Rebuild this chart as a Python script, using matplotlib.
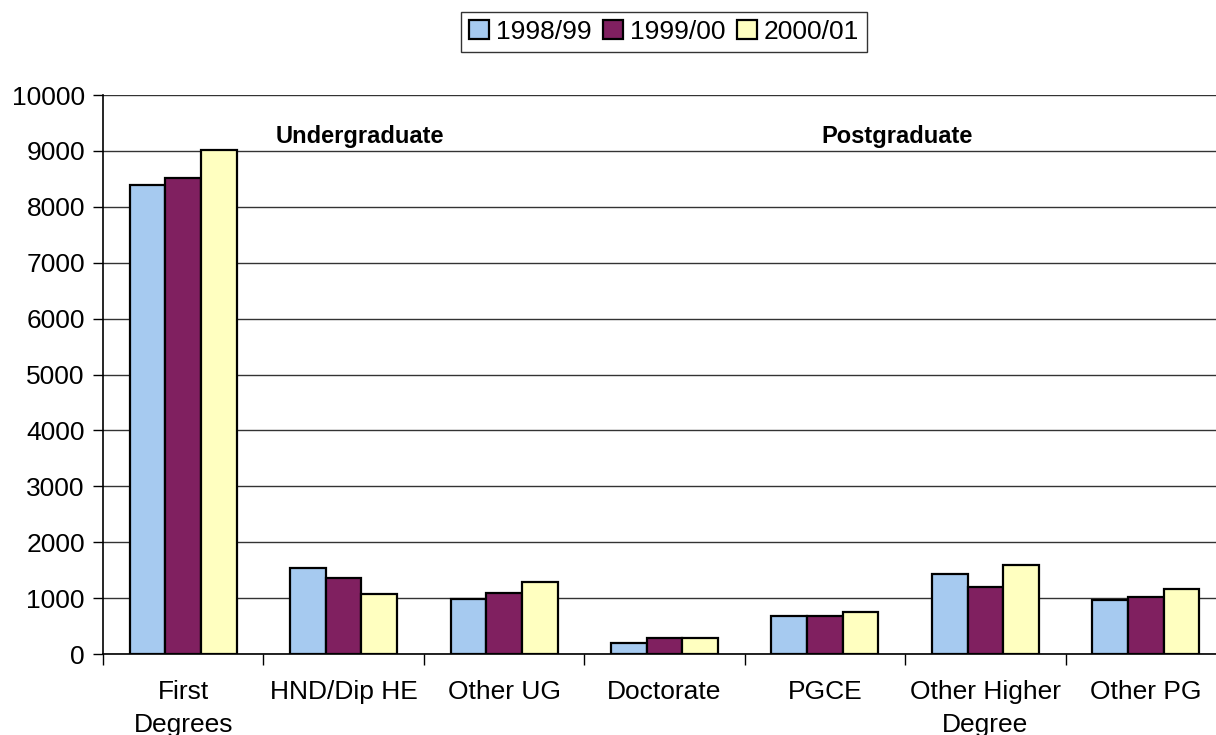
import numpy as np
import matplotlib
matplotlib.use("Agg")
import matplotlib.pyplot as plt
from matplotlib.ticker import FixedLocator

plt.rcParams['font.family'] = ['Liberation Sans', 'DejaVu Sans']

categories = ["First\nDegrees", "HND/Dip HE", "Other UG", "Doctorate",
              "PGCE", "Other Higher\nDegree", "Other PG"]
years = ["1998/99", "1999/00", "2000/01"]
v_1998 = [8390, 1545, 990, 190, 680, 1425, 960]
v_1999 = [8515, 1365, 1085, 290, 680, 1205, 1020]
v_2000 = [9010, 1080, 1295, 290, 750, 1590, 1170]
colors = ['#A6CAF0', '#802060', '#FFFFC0']

fig = plt.figure(figsize=(12.16, 7.35), dpi=100)
ax = fig.add_axes([0.0847, 0.1102, 0.9235, 0.7605])

x = np.arange(len(categories))
w = 2 / 9
for i, (vals, c) in enumerate(zip([v_1998, v_1999, v_2000], colors)):
    ax.bar(x + (i - 1) * w, vals, w, color=c, edgecolor='black',
           linewidth=1.6, label=years[i], zorder=3)

ax.set_xlim(-0.5, len(categories) - 0.5)
ax.set_ylim(0, 10000)
ax.set_yticks(np.arange(0, 10001, 1000))
ax.yaxis.grid(True, color='#333333', linewidth=1.0, zorder=0)
ax.tick_params(axis='y', labelsize=19, length=7, width=1, pad=6)

ax.set_xticks(x)
ax.set_xticklabels(categories, fontsize=19, linespacing=1.45)
ax.tick_params(axis='x', length=0, pad=19)
ax.xaxis.set_minor_locator(FixedLocator(np.arange(-0.5, len(categories), 1)))
ax.tick_params(axis='x', which='minor', length=8, width=1)

for s in ['top', 'right']:
    ax.spines[s].set_visible(False)
ax.spines['left'].set_linewidth(1.2)
ax.spines['bottom'].set_linewidth(1.2)

ax.text(1.10, 9250, "Undergraduate", fontsize=17, fontweight='bold',
        ha='center', va='center')
ax.text(4.45, 9250, "Postgraduate", fontsize=17, fontweight='bold',
        ha='center', va='center')

leg = fig.legend(loc='center', bbox_to_anchor=(664 / 1216, 1 - 32 / 735),
                 ncol=3, fontsize=19, frameon=True, fancybox=False,
                 handlelength=0.75, handleheight=0.75, handletextpad=0.25,
                 columnspacing=0.45, borderpad=0.3, borderaxespad=0)
leg.get_frame().set_edgecolor('black')
leg.get_frame().set_linewidth(1.0)

fig.savefig("out.png", dpi=100)
